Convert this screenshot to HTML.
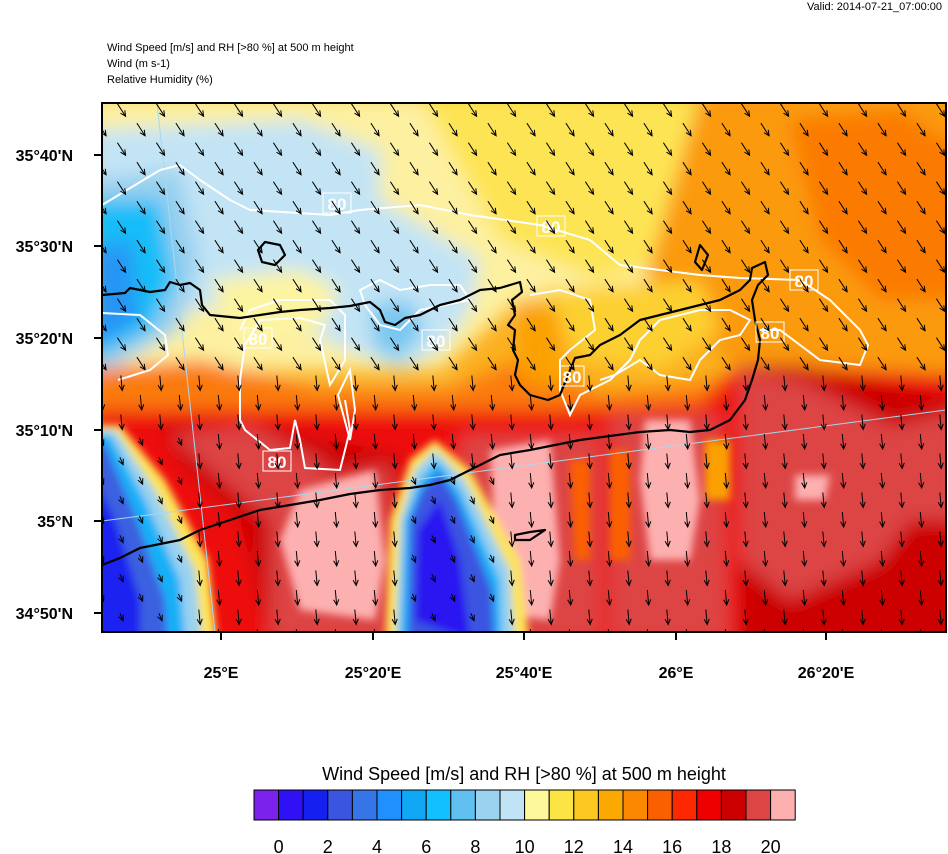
<!DOCTYPE html>
<html><head><meta charset="utf-8">
<style>
body{margin:0;background:#fff;width:948px;height:854px;overflow:hidden;font-family:"Liberation Sans",Arial,sans-serif;}
svg{position:absolute;left:0;top:0}
</style></head><body>
<svg width="948" height="854" viewBox="0 0 948 854" xmlns="http://www.w3.org/2000/svg">
<defs>
<clipPath id="pc"><rect x="102" y="103" width="844" height="529"/></clipPath>
<filter id="bl" x="-20%" y="-20%" width="140%" height="140%"><feGaussianBlur stdDeviation="9"/></filter>
<filter id="bs" x="-20%" y="-20%" width="140%" height="140%"><feGaussianBlur stdDeviation="4"/></filter>
</defs>
<text x="942" y="10" font-size="11" text-anchor="end">Valid: 2014-07-21_07:00:00</text>
<text x="107" y="51" font-size="11">Wind Speed [m/s] and RH [&gt;80 %] at 500 m height</text>
<text x="107" y="67" font-size="11">Wind   (m s-1)</text>
<text x="107" y="83" font-size="11">Relative Humidity   (%)</text>
<g clip-path="url(#pc)">
<rect x="102" y="103" width="844" height="529" fill="#fbb020"/>
<g filter="url(#bl)">
<path d="M90 95 H720 V200 L650 290 L520 300 L440 370 L250 370 L90 380Z" fill="#fdf0a0"/>
<path d="M420 95 H720 L700 250 L600 280 L500 240 Z" fill="#fde455"/>
<path d="M700 95 H960 V420 L760 400 L700 330 L640 300Z" fill="#fb9a10"/>
<path d="M790 120 L900 110 L960 150 V300 L880 300 L820 240Z" fill="#fb7a05"/>
<path d="M90 130 L300 120 L380 150 L380 200 L480 260 L470 310 L440 350 L400 370 L350 350 L300 330 L240 300 L150 320 L90 330Z" fill="#c3e4f5"/>
<path d="M90 180 L180 170 L200 260 L180 330 L90 380Z" fill="#98d0ef"/>
<path d="M90 200 L160 200 L175 280 L150 330 L90 360Z" fill="#18bdf8"/>
<path d="M90 250 L130 240 L140 320 L90 350Z" fill="#2895f5"/>
<path d="M370 305 L410 300 L425 330 L400 360 L375 350Z" fill="#78c8f0"/>
<path d="M210 280 L300 270 L340 290 L320 330 L240 340Z" fill="#fdf4a0"/>
<path d="M540 290 L700 280 L720 330 L660 370 L580 360Z" fill="#fdd030"/>
<path d="M90 370 L200 360 L320 390 L450 390 L520 360 L600 395 L700 385 L760 365 L960 380 V430 L90 440Z" fill="#fb7a08"/>
<path d="M520 300 L560 310 L560 390 L520 380Z" fill="#fba000"/>
<path d="M90 410 L300 410 L450 410 L560 410 L700 405 L740 365 L960 375 V650 H90Z" fill="#ee0808"/>
<path d="M160 425 L260 425 L400 455 L390 640 L270 640 L240 520 L180 465Z" fill="#cc0000"/>
<path d="M740 365 L800 365 L960 400 V650 H740 Z" fill="#cc0000"/>
<path d="M170 435 L250 425 L330 465 L270 520Z" fill="#dd4444"/>
<path d="M270 485 L390 465 L395 640 L270 640Z" fill="#dd4444"/>
<path d="M460 435 L600 435 L600 640 L460 640Z" fill="#dd4444"/>
<path d="M610 415 L720 415 L730 640 L610 640Z" fill="#dd4444"/>
<path d="M740 370 L800 380 L900 430 L910 520 L880 560 L790 600 L740 560Z" fill="#dd4444"/>
<path d="M880 430 L960 410 V520 L900 520Z" fill="#dd4444"/>
</g>
<g filter="url(#bs)">
<path d="M300 490 L375 470 L385 560 L375 620 L300 610 L280 540Z" fill="#fdb0b0"/>
<path d="M490 450 L550 440 L560 560 L550 620 L510 615 L495 540Z" fill="#fdb0b0"/>
<path d="M645 420 L690 420 L700 500 L690 560 L650 560 L640 480Z" fill="#fdb0b0"/>
<path d="M795 475 L830 475 L825 500 L795 500Z" fill="#fdb0b0"/>
<path d="M570 460 L590 460 L590 560 L575 560Z" fill="#fb6000"/>
<path d="M610 450 L630 450 L630 560 L610 560Z" fill="#fb6000"/>
<path d="M705 440 L730 440 L730 500 L705 500Z" fill="#fba000"/>
<path d="M90 425 L120 425 L165 480 L208 560 L218 650 H90Z" fill="#fde455"/>
<path d="M90 430 L115 430 L155 490 L195 570 L203 650 H90Z" fill="#9ad2f0"/>
<path d="M90 435 L110 435 L145 500 L180 580 L186 650 H90Z" fill="#18b0f8"/>
<path d="M90 445 L105 445 L135 515 L165 600 L168 650 H90Z" fill="#3a60e0"/>
<path d="M90 470 L115 520 L140 600 L140 650 H90Z" fill="#1a22f0"/>
<path d="M385 650 L390 520 L410 460 L435 440 L470 470 L520 560 L530 650Z" fill="#fde455"/>
<path d="M395 650 L400 520 L415 470 L435 450 L465 480 L510 570 L515 650Z" fill="#9ad2f0"/>
<path d="M400 650 L405 520 L420 480 L437 460 L460 490 L500 580 L502 650Z" fill="#18b0f8"/>
<path d="M408 650 L410 520 L423 488 L440 472 L457 500 L492 590 L495 650Z" fill="#3a55e0"/>
<path d="M415 620 L418 530 L440 500 L460 560 L470 640Z" fill="#2a18f0"/>
</g>
<g stroke="#a8d8f0" stroke-width="1" fill="none">
<line x1="157" y1="103" x2="215" y2="632"/>
<line x1="102" y1="521" x2="946" y2="410"/>
</g>
<g stroke="#fff" stroke-width="2" fill="none">
<path d="M102 205 L160 170 L180 165 L200 180 L230 200 L250 210 L330 215 L360 210 L420 205 L470 215 L540 225 L590 240 L620 265 L700 275 L740 278 L800 280 L830 300 L860 330 L868 345 L860 365 L820 360 L800 345 L780 330 L760 330"/>
<path d="M102 313 L140 315 L165 335 L168 355 L150 370 L118 380"/>
<path d="M360 290 L380 280 L400 290 L430 285 L460 285 L470 300 L420 310 L410 320 L400 330 L380 325 L365 305Z"/>
<path d="M240 330 L250 310 L280 300 L300 300 L330 300 L345 315 L345 360 L330 385 L320 340 L325 325 L300 318 L260 320 L245 345 L240 380 L240 420 L245 430 L270 450 L290 448 L295 420 L300 440 L305 468 L340 470 L350 430 L345 400"/>
<path d="M338 395 L350 370 L355 410 L350 440Z"/>
<path d="M530 295 L560 290 L590 300 L595 330 L570 350 L560 360 L560 390 L570 415 L580 395 L610 380 L630 360 L640 340 L660 320 L700 310 L730 310 L750 320 L740 335 L720 340 L700 360 L690 380 L660 375 L640 360 L615 375 L600 380"/>
</g>
<g stroke="#000" stroke-width="2.2" fill="none" stroke-linejoin="round">
<path d="M102 295 L125 293 L130 288 L150 292 L165 290 L170 282 L180 285 L190 283 L200 290 L202 305 L210 315 L240 318 L260 315 L280 312 L300 310 L330 308 L350 306 L370 302 L380 310 L385 322 L395 325 L405 318 L420 315 L440 305 L460 300 L480 290 L500 288 L520 282 L522 292 L512 300 L515 315 L508 325 L515 330 L513 350 L518 360 L515 375 L520 385 L530 395 L548 400 L560 395 L570 370 L575 358 L590 355 L600 345 L620 335 L640 320 L660 315 L680 310 L700 305 L720 300 L740 290 L750 280 L752 268 L765 262 L768 275 L758 285 L752 300 L755 320 L760 340 L758 360 L752 380 L745 400 L730 420 L710 430 L690 432 L670 430 L640 432 L610 436 L580 440 L550 446 L530 450 L500 455 L470 470 L450 480 L430 485 L410 488 L380 490 L350 494 L320 500 L290 505 L260 510 L230 520 L200 530 L180 540 L140 548 L120 558 L102 565"/>
<path d="M258 250 L265 242 L280 245 L285 255 L275 265 L262 262Z"/>
<path d="M695 262 L700 245 L708 255 L702 270Z"/>
<path d="M515 535 L530 532 L545 530 L530 540 L515 540Z"/>
</g>
<g fill="none" stroke="#fff" stroke-width="1">
<rect x="323" y="193" width="28" height="20"/>
<rect x="537" y="216" width="28" height="20"/>
<rect x="790" y="270" width="28" height="20"/>
<rect x="244" y="328" width="28" height="20"/>
<rect x="422" y="330" width="28" height="20"/>
<rect x="756" y="322" width="28" height="20"/>
<rect x="560" y="366" width="24" height="20"/>
<rect x="263" y="451" width="28" height="20"/>
</g>
<g fill="#fff" font-size="17" font-weight="bold" text-anchor="middle">
<text x="337" y="210">80</text><text x="551" y="233">80</text><text x="804" y="287">80</text>
<text x="258" y="345">80</text><text x="436" y="347">80</text><text x="770" y="339">80</text>
<text x="572" y="383">80</text><text x="277" y="468">80</text>
</g>
<g id="arr" stroke="#000" stroke-width="1" fill="none"></g>
</g>
<rect x="102" y="103" width="844" height="529" fill="none" stroke="#000" stroke-width="2"/>
<g stroke="#000" stroke-width="2">
<line x1="94" y1="155" x2="102" y2="155"/><line x1="94" y1="246" x2="102" y2="246"/>
<line x1="94" y1="338" x2="102" y2="338"/><line x1="94" y1="430" x2="102" y2="430"/>
<line x1="94" y1="521" x2="102" y2="521"/><line x1="94" y1="613" x2="102" y2="613"/>
<line x1="221" y1="632" x2="221" y2="640"/><line x1="373" y1="632" x2="373" y2="640"/>
<line x1="524" y1="632" x2="524" y2="640"/><line x1="676" y1="632" x2="676" y2="640"/>
<line x1="826" y1="632" x2="826" y2="640"/>
</g>
<g font-size="16" font-weight="bold" text-anchor="end">
<text x="73" y="161">35°40'N</text><text x="73" y="252">35°30'N</text>
<text x="73" y="344">35°20'N</text><text x="73" y="436">35°10'N</text>
<text x="73" y="527">35°N</text><text x="73" y="619">34°50'N</text>
</g>
<g font-size="16" font-weight="bold" text-anchor="middle">
<text x="221" y="678">25°E</text><text x="373" y="678">25°20'E</text>
<text x="524" y="678">25°40'E</text><text x="676" y="678">26°E</text><text x="826" y="678">26°20'E</text>
</g>
<text x="524" y="780" font-size="18" text-anchor="middle">Wind Speed [m/s] and RH [&gt;80 %] at 500 m height</text>
<g id="cb" stroke="#000" stroke-width="1"></g>
<g font-size="18" text-anchor="middle" id="cbl"></g>
</svg>
<script>
var cols=["#7b22ec","#3010f5","#1520f0","#3a55e0","#3575e8","#2090ff","#10a8f5","#10c0ff","#60c0f0","#9ad2f0","#c0e4f5","#fdf89a","#fde445","#fdc820","#fba800","#fb8800","#fb6000","#fb2800","#ee0000","#cc0000","#dd4444","#fcb0b0"];
var ns="http://www.w3.org/2000/svg",cb=document.getElementById("cb"),w=24.6,x0=254;
cols.forEach(function(c,i){var r=document.createElementNS(ns,"rect");r.setAttribute("x",x0+i*w);r.setAttribute("y",790);r.setAttribute("width",w);r.setAttribute("height",30);r.setAttribute("fill",c);cb.appendChild(r);});
var cl=document.getElementById("cbl");
for(var k=0;k<=10;k++){var t=document.createElementNS(ns,"text");t.setAttribute("x",x0+w*(1+2*k));t.setAttribute("y",853);t.textContent=2*k;cl.appendChild(t);}
var g=document.getElementById("arr"),d="";
for(var r=0;r<28;r++){var y=110+r*19.5;var off=(r%2)?0:19.5;
for(var x=102+off;x<950;x+=39){
var dx,dy,L=15;
if(y<380){dx=0.55;dy=0.83;} else {dx=0.1;dy=1;}
if(y>=380&&((x<190&&y>430)||(x>405&&x<495&&y>470))){L=8;dx=0.4;dy=0.9;}
var n=Math.sqrt(dx*dx+dy*dy);dx/=n;dy/=n;
var x1=x-dx*L/2,y1=y-dy*L/2,x2=x+dx*L/2,y2=y+dy*L/2;
var h=6,a=0.45,ca=Math.cos(a),sa=Math.sin(a);
var hx1=x2-h*(dx*ca-dy*sa),hy1=y2-h*(dy*ca+dx*sa),hx2=x2-h*(dx*ca+dy*sa),hy2=y2-h*(dy*ca-dx*sa);
d+="M"+x1.toFixed(1)+" "+y1.toFixed(1)+"L"+x2.toFixed(1)+" "+y2.toFixed(1)+"M"+hx1.toFixed(1)+" "+hy1.toFixed(1)+"L"+x2.toFixed(1)+" "+y2.toFixed(1)+"L"+hx2.toFixed(1)+" "+hy2.toFixed(1);
}}
var p=document.createElementNS(ns,"path");p.setAttribute("d",d);g.appendChild(p);
</script>
</body></html>
